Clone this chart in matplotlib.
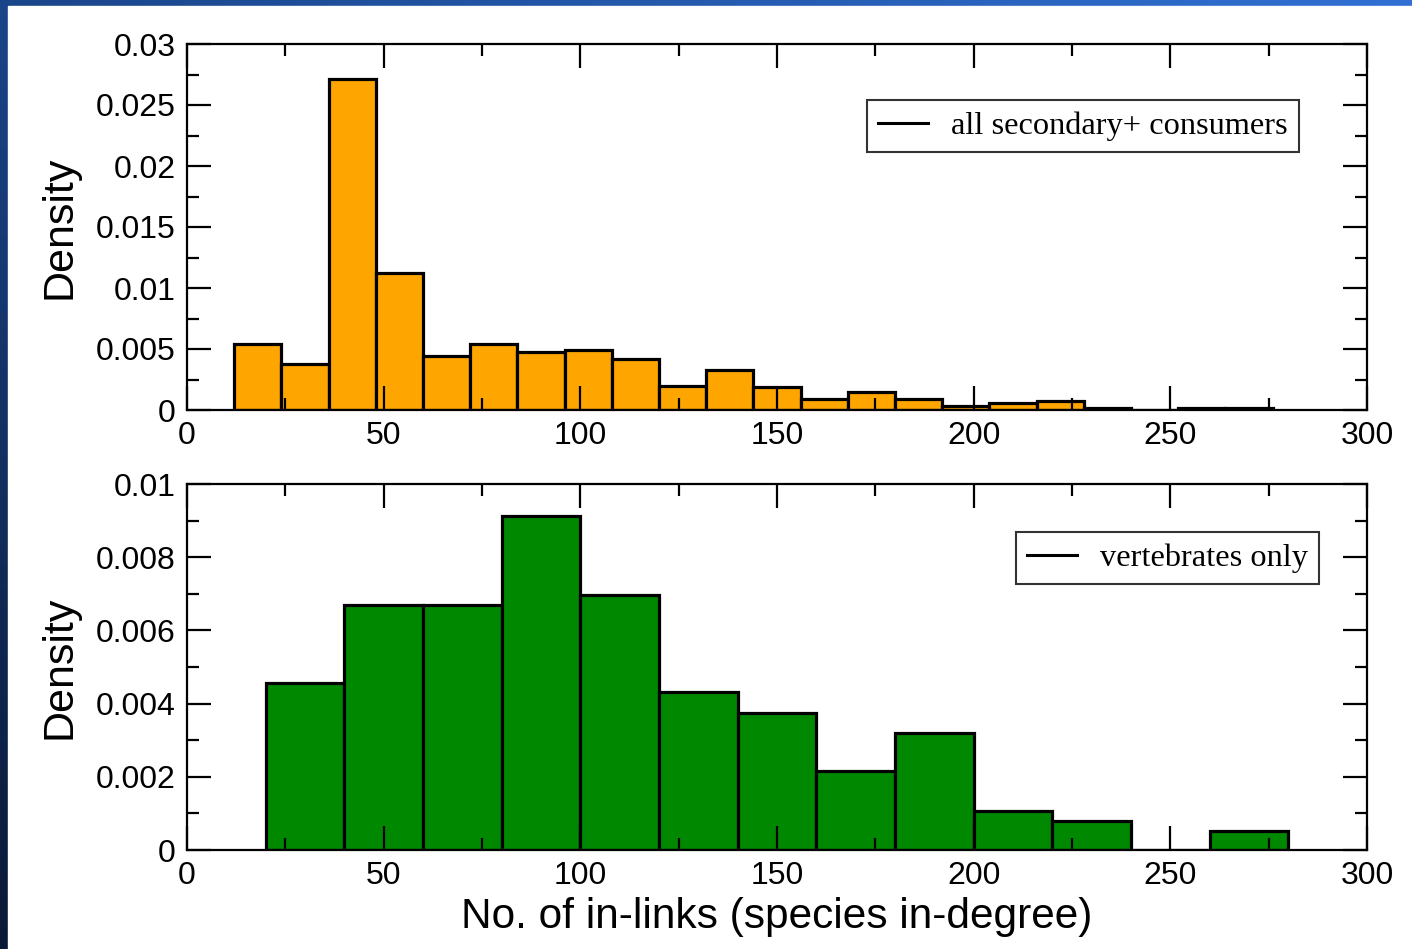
import numpy as np
import matplotlib
matplotlib.use("Agg")
import matplotlib.pyplot as plt
from matplotlib.lines import Line2D
from matplotlib.patches import Rectangle
from matplotlib.ticker import MultipleLocator

# --------------------
# data
# --------------------
# all secondary+ consumers: 12-wide bins from 12 to 276
all_edges = np.arange(12, 277, 12)
all_density = [0.0054, 0.0038, 0.0271, 0.0112, 0.0044, 0.0054, 0.00475, 0.0049,
               0.0042, 0.0020, 0.0033, 0.0019, 0.0009, 0.0015, 0.0009, 0.0003,
               0.0006, 0.0007, 0.0002, 0.0, 0.0002, 0.0002]

# vertebrates only: 20-wide bins from 20 to 280
vert_edges = np.arange(20, 281, 20)
vert_density = [0.00456, 0.00669, 0.00669, 0.00913, 0.00697, 0.00432, 0.00374,
                0.00216, 0.0032, 0.00107, 0.0008, 0.0, 0.00052]

x_ticks = [0, 50, 100, 150, 200, 250, 300]

plt.rcParams["font.family"] = ["Liberation Sans", "DejaVu Sans"]

W, H = 1412, 949
fig = plt.figure(figsize=(W / 100, H / 100), dpi=100)

# --------------------
# slide-style blue border (top + left)
# --------------------
bg = fig.add_axes([0, 0, 1, 1], zorder=-10)
xx, yy = np.meshgrid(np.linspace(0, 1, 200), np.linspace(0, 1, 200))
tl = np.array([0.10, 0.27, 0.54])
tr = np.array([0.19, 0.44, 0.83])
bl = np.array([0.04, 0.10, 0.21])
grad = (tl[None, None, :] * (1 - xx[..., None]) * (1 - yy[..., None])
        + tr[None, None, :] * xx[..., None] * (1 - yy[..., None])
        + bl[None, None, :] * (1 - xx[..., None]) * yy[..., None]
        + tr[None, None, :] * 0.6 * xx[..., None] * yy[..., None])
bg.imshow(grad, aspect="auto", extent=[0, 1, 0, 1], origin="upper")
bg.add_patch(Rectangle((8 / W, 0), 1, 1 - 6 / H, color="white", zorder=2))
bg.set_xlim(0, 1)
bg.set_ylim(0, 1)
bg.axis("off")


def style_axis(ax, y_major, y_minor):
    ax.set_xlim(0, 300)
    ax.xaxis.set_major_locator(MultipleLocator(50))
    ax.xaxis.set_minor_locator(MultipleLocator(25))
    ax.yaxis.set_major_locator(MultipleLocator(y_major))
    ax.yaxis.set_minor_locator(MultipleLocator(y_minor))
    ax.tick_params(which="both", direction="in", top=True, right=True,
                   width=1.6, labelsize=23, pad=8)
    ax.tick_params(which="major", length=17)
    ax.tick_params(which="minor", length=8.5)
    for sp in ax.spines.values():
        sp.set_linewidth(1.6)
    ax.set_ylabel("Density", fontsize=31, labelpad=12)


def add_legend(ax, label, loc_xy):
    h = Line2D([], [], color="black", lw=2.2)
    leg = ax.legend([h], [label], loc="upper right", bbox_to_anchor=loc_xy,
                    frameon=True, fancybox=False, edgecolor="black",
                    prop={"family": "Liberation Serif", "size": 23.3},
                    handlelength=1.55, handletextpad=0.7, borderpad=0.35,
                    borderaxespad=0)
    leg.get_frame().set_linewidth(1.5)


# --------------------
# top panel
# --------------------
ax1 = fig.add_axes([187 / W, 1 - 410 / H, 1180 / W, 366 / H])
ax1.bar(all_edges[:-1], all_density, width=np.diff(all_edges), align="edge",
        color="#ffa500", edgecolor="black", linewidth=2.3)
ax1.set_ylim(0, 0.03)
style_axis(ax1, 0.005, 0.0025)
ax1.set_yticks([0, 0.005, 0.01, 0.015, 0.02, 0.025, 0.03])
ax1.set_yticklabels(["0", "0.005", "0.01", "0.015", "0.02", "0.025", "0.03"])
ax1.set_xticks(x_ticks)
add_legend(ax1, "all secondary+ consumers", ((1299 - 187) / 1180, (410 - 100) / 366))

# --------------------
# bottom panel
# --------------------
ax2 = fig.add_axes([187 / W, 1 - 850 / H, 1180 / W, 366 / H])
ax2.bar(vert_edges[:-1], vert_density, width=np.diff(vert_edges), align="edge",
        color="#008800", edgecolor="black", linewidth=2.3)
ax2.set_ylim(0, 0.01)
style_axis(ax2, 0.002, 0.001)
ax2.set_yticks([0, 0.002, 0.004, 0.006, 0.008, 0.01])
ax2.set_yticklabels(["0", "0.002", "0.004", "0.006", "0.008", "0.01"])
ax2.set_xticks(x_ticks)
ax2.set_xlabel("No. of in-links (species in-degree)", fontsize=30.5, labelpad=4)
add_legend(ax2, "vertebrates only", ((1319 - 187) / 1180, (850 - 532) / 366))

fig.savefig("out.png", dpi=100)
